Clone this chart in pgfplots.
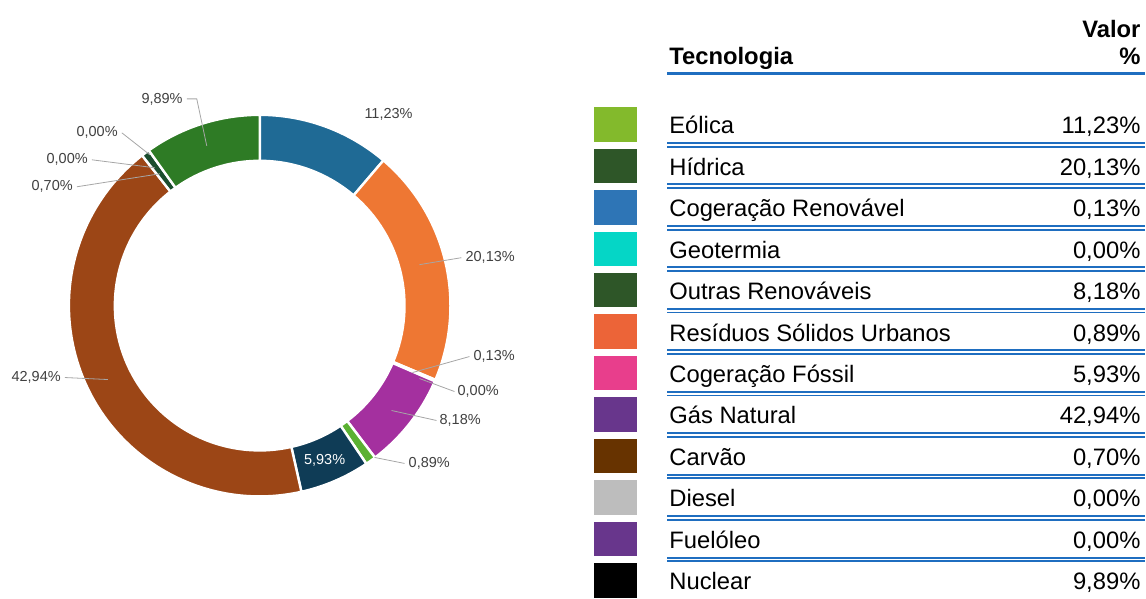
\documentclass[border=0pt]{standalone}
\usepackage{pgfplots}
\pgfplotsset{compat=1.18}
\usepackage{fontspec}
\setmainfont{Liberation Sans}
\definecolor{dA}{HTML}{1F6A95}
\definecolor{dB}{HTML}{EE7733}
\definecolor{dC}{HTML}{F2A0B0}
\definecolor{dE}{HTML}{A4309F}
\definecolor{dF}{HTML}{5BB132}
\definecolor{dG}{HTML}{0F3C56}
\definecolor{dH}{HTML}{9C4616}
\definecolor{dI}{HTML}{1B4D2E}
\definecolor{dL}{HTML}{2E7B25}
\definecolor{sA}{HTML}{83BA2C}
\definecolor{sB}{HTML}{2E5628}
\definecolor{sC}{HTML}{2E75B6}
\definecolor{sD}{HTML}{05D6C6}
\definecolor{sE}{HTML}{2E5628}
\definecolor{sF}{HTML}{EC6438}
\definecolor{sG}{HTML}{E83E8C}
\definecolor{sH}{HTML}{68368C}
\definecolor{sI}{HTML}{673300}
\definecolor{sJ}{HTML}{BDBDBD}
\definecolor{sK}{HTML}{68368C}
\definecolor{sL}{HTML}{000000}
\definecolor{lblue}{HTML}{1F6EC0}
\definecolor{lbl}{HTML}{404040}
\definecolor{lead}{HTML}{A6A6A6}
% #1 cumulative start (%), #2 value (%), #3 colour
\newcommand\donutslice[3]{%
  \fill[#3, draw=white, line width=2.4pt]
    (axis cs:{260+191*sin(3.6*#1)},{191*cos(3.6*#1)-306})
    arc[start angle={90-3.6*#1}, end angle={90-3.6*(#1+#2)}, radius=191pt]
    -- (axis cs:{260+145*sin(3.6*(#1+#2))},{145*cos(3.6*(#1+#2))-306})
    arc[start angle={90-3.6*(#1+#2)}, end angle={90-3.6*#1}, radius=145pt] -- cycle;}
\newcommand\tabsep[1]{%
  \draw[lblue, line width=2pt] (axis cs:668,{-143.2-41.5*#1}) -- (axis cs:1146,{-143.2-41.5*#1});
  \draw[lblue, line width=1.8pt] (axis cs:668,{-146.9-41.5*#1}) -- (axis cs:1146,{-146.9-41.5*#1});}
\newcommand\tabrow[4]{%
  \fill[#4] (axis cs:595,{-107.3-41.5*#1}) rectangle (axis cs:638,{-141.8-41.5*#1});
  \node[anchor=base west, font=\fontsize{23.8}{28}\selectfont, inner sep=0pt] at (axis cs:670,{-134-41.5*#1}) {#2};
  \node[anchor=base east, font=\fontsize{23.8}{28}\selectfont, inner sep=0pt] at (axis cs:1142,{-134-41.5*#1}) {#3};}
\begin{document}
\begin{tikzpicture}
\begin{axis}[hide axis, x=1pt, y=1pt, xmin=0, xmax=1146, ymin=-599, ymax=0,
  clip=false, anchor=south west, at={(0,0)}]
\path (axis cs:0,-599) rectangle (axis cs:1146,0);
% donut: values 11.23, 20.13, 0.13, 0.00, 8.18, 0.89, 5.93, 42.94, 0.70, 0.00, 0.00, 9.89
\donutslice{0}{11.23}{dA}
\donutslice{11.23}{20.13}{dB}
\donutslice{31.36}{0.13}{dC}
\donutslice{31.49}{8.18}{dE}
\donutslice{39.67}{0.89}{dF}
\donutslice{40.56}{5.93}{dG}
\donutslice{46.49}{42.94}{dH}
\donutslice{89.43}{0.70}{dI}
\donutslice{90.13}{9.89}{dL}
% leader lines
\draw[lead, line width=0.8pt] (axis cs:420,-265) -- (axis cs:462,-258);
\draw[lead, line width=0.8pt] (axis cs:413,-373) -- (axis cs:470,-357);
\draw[lead, line width=0.8pt] (axis cs:420,-379) -- (axis cs:455,-392);
\draw[lead, line width=0.8pt] (axis cs:392,-411) -- (axis cs:437,-421);
\draw[lead, line width=0.8pt] (axis cs:375,-458) -- (axis cs:405,-464);
\draw[lead, line width=0.8pt] (axis cs:108,-380) -- (axis cs:65,-378);
\draw[lead, line width=0.8pt] (axis cs:160,-174) -- (axis cs:77,-187);
\draw[lead, line width=0.8pt] (axis cs:155,-168) -- (axis cs:92,-160);
\draw[lead, line width=0.8pt] (axis cs:150,-155) -- (axis cs:122,-133);
\draw[lead, line width=0.8pt] (axis cs:207,-146) -- (axis cs:197,-99) -- (axis cs:187,-99);
% labels
\begin{scope}[every node/.style={font=\fontsize{14.5}{16}\selectfont, text=lbl, inner sep=0pt}]
\node[anchor=center] at (axis cs:389,-115) {11,23\%};
\node[anchor=west] at (axis cs:466,-258) {20,13\%};
\node[anchor=west] at (axis cs:474,-357) {0,13\%};
\node[anchor=west] at (axis cs:458,-392) {0,00\%};
\node[anchor=west] at (axis cs:440,-421) {8,18\%};
\node[anchor=west] at (axis cs:409,-464) {0,89\%};
\node[anchor=east] at (axis cs:61,-378) {42,94\%};
\node[anchor=east] at (axis cs:73,-187) {0,70\%};
\node[anchor=east] at (axis cs:88,-160) {0,00\%};
\node[anchor=east] at (axis cs:118,-133) {0,00\%};
\node[anchor=east] at (axis cs:183,-99) {9,89\%};
\node[anchor=center, text=white] at (axis cs:325,-461) {5,93\%};
\end{scope}
% table header
\begin{scope}[every node/.style={font=\fontsize{23.8}{28}\selectfont\bfseries, inner sep=0pt}]
\node[anchor=base east] at (axis cs:1142,-38) {Valor};
\node[anchor=base east] at (axis cs:1142,-65) {\%};
\node[anchor=base west] at (axis cs:670,-65) {Tecnologia};
\end{scope}
\draw[lblue, line width=2.8pt] (axis cs:668,-73.5) -- (axis cs:1146,-73.5);
\tabsep{0}\tabsep{1}\tabsep{2}\tabsep{3}\tabsep{4}\tabsep{5}\tabsep{6}\tabsep{7}\tabsep{8}\tabsep{9}\tabsep{10}
\tabrow{0}{Eólica}{11,23\%}{sA}
\tabrow{1}{Hídrica}{20,13\%}{sB}
\tabrow{2}{Cogeração Renovável}{0,13\%}{sC}
\tabrow{3}{Geotermia}{0,00\%}{sD}
\tabrow{4}{Outras Renováveis}{8,18\%}{sE}
\tabrow{5}{Resíduos Sólidos Urbanos}{0,89\%}{sF}
\tabrow{6}{Cogeração Fóssil}{5,93\%}{sG}
\tabrow{7}{Gás Natural}{42,94\%}{sH}
\tabrow{8}{Carvão}{0,70\%}{sI}
\tabrow{9}{Diesel}{0,00\%}{sJ}
\tabrow{10}{Fuelóleo}{0,00\%}{sK}
\tabrow{11}{Nuclear}{9,89\%}{sL}
\end{axis}
\end{tikzpicture}
\end{document}
